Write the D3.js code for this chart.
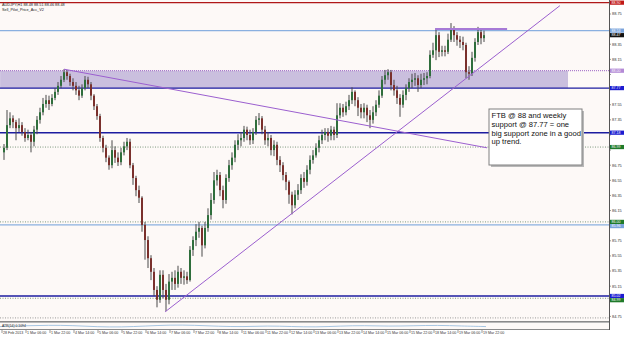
<!DOCTYPE html>
<html>
<head>
<meta charset="utf-8">
<script src="https://cdn.jsdelivr.net/npm/d3@7"></script>
<style>
  html, body { margin: 0; padding: 0; background: #ffffff; }
  svg { display: block; font-family: "Liberation Sans", Arial, sans-serif; }
</style>
</head>
<body>
<svg id="chart" width="625" height="337"></svg>
<script>
// AUDJPY hourly candles (open = previous close)
const firstOpen = 86.92;
const closes = [
  86.98, 87.28, 87.37, 87.32, 87.24, 87.28, 87.19, 87.11, 87.15, 87.06,
  87.22, 87.35, 87.45, 87.56, 87.61, 87.56, 87.64, 87.72, 87.80, 87.88,
  87.98, 87.93, 87.85, 87.80, 87.74, 87.67, 87.77, 87.88, 87.82, 87.67,
  87.53, 87.40, 87.11, 86.98, 86.85, 86.75, 86.95, 86.85, 86.79, 86.92,
  87.00, 87.06, 86.75, 86.58, 86.42, 86.32, 85.96, 85.76, 85.52, 85.34,
  85.10, 84.97, 85.30, 85.10, 84.97, 85.21, 85.26, 85.18, 85.34, 85.26,
  85.28, 85.23, 85.63, 85.76, 85.87, 85.92, 85.69, 85.92, 86.09, 86.29,
  86.55, 86.62, 86.42, 86.29, 86.58, 86.75, 86.85, 87.02, 87.08, 87.11,
  87.22, 87.15, 87.08, 87.19, 87.35, 87.37, 87.22, 87.08, 87.11, 86.95,
  87.02, 86.82, 86.75, 86.62, 86.53, 86.36, 86.22, 86.36, 86.42, 86.58,
  86.53, 86.69, 86.82, 86.88, 86.98, 87.08, 87.15, 87.19, 87.14, 87.22,
  87.15, 87.41, 87.51, 87.45, 87.53, 87.61, 87.72, 87.61, 87.51, 87.45,
  87.51, 87.41, 87.35, 87.45, 87.55, 87.67, 87.88, 87.94, 87.98, 87.81,
  87.74, 87.64, 87.55, 87.68, 87.77, 87.85, 87.88, 87.90, 87.81, 87.88,
  87.90, 87.93, 88.21, 88.27, 88.47, 88.25, 88.27, 88.25, 88.41, 88.56,
  88.47, 88.41, 88.38, 88.34, 87.98, 87.96, 88.17, 88.38, 88.51, 88.43,
  88.47
];
const highs = [
  87.03, 87.48, 87.45, 87.41, 87.35, 87.37, 87.32, 87.24, 87.22, 87.19,
  87.27, 87.40, 87.51, 87.64, 87.68, 87.67, 87.69, 87.77, 87.85, 87.93,
  88.02, 88.01, 87.96, 87.90, 87.85, 87.80, 87.82, 87.93, 87.92, 87.85,
  87.69, 87.56, 87.43, 87.14, 87.02, 86.88, 87.08, 87.00, 86.92, 86.98,
  87.06, 87.11, 87.10, 86.78, 86.61, 86.48, 86.34, 86.00, 85.81, 85.56,
  85.39, 85.15, 85.36, 85.36, 85.18, 85.31, 85.34, 85.36, 85.42, 85.39,
  85.36, 85.34, 85.68, 85.81, 85.97, 86.00, 85.95, 86.00, 86.18, 86.38,
  86.66, 86.69, 86.66, 86.48, 86.63, 86.82, 86.92, 87.08, 87.16, 87.19,
  87.27, 87.26, 87.22, 87.24, 87.40, 87.44, 87.40, 87.27, 87.19, 87.15,
  87.08, 87.06, 86.87, 86.79, 86.66, 86.55, 86.40, 86.42, 86.50, 86.63,
  86.66, 86.75, 86.88, 86.95, 87.04, 87.14, 87.22, 87.24, 87.24, 87.27,
  87.26, 87.57, 87.57, 87.56, 87.59, 87.68, 87.78, 87.74, 87.65, 87.56,
  87.57, 87.55, 87.48, 87.53, 87.61, 87.74, 87.93, 88.01, 88.02, 88.01,
  87.88, 87.80, 87.69, 87.74, 87.82, 87.90, 87.96, 87.97, 87.94, 87.96,
  87.97, 87.98, 88.27, 88.37, 88.56, 88.51, 88.33, 88.33, 88.49, 88.63,
  88.59, 88.51, 88.46, 88.45, 88.37, 88.06, 88.25, 88.43, 88.58, 88.55,
  88.53
];
const lows = [
  86.82, 86.95, 87.24, 87.24, 87.08, 87.19, 87.14, 87.06, 87.08, 86.92,
  87.00, 87.16, 87.30, 87.41, 87.51, 87.48, 87.53, 87.61, 87.68, 87.77,
  87.85, 87.88, 87.80, 87.74, 87.68, 87.61, 87.64, 87.74, 87.77, 87.61,
  87.48, 87.35, 87.06, 86.92, 86.79, 86.69, 86.71, 86.78, 86.74, 86.75,
  86.88, 86.95, 86.71, 86.49, 86.34, 86.25, 85.87, 85.50, 85.39, 85.23,
  85.02, 84.87, 84.93, 84.99, 84.82, 84.91, 85.10, 85.10, 85.13, 85.18,
  85.17, 85.18, 85.21, 85.55, 85.68, 85.79, 85.54, 85.65, 85.87, 86.03,
  86.24, 86.48, 86.34, 86.18, 86.24, 86.53, 86.69, 86.79, 86.95, 87.00,
  87.06, 87.08, 87.02, 87.03, 87.15, 87.28, 87.16, 87.02, 87.00, 86.88,
  86.87, 86.75, 86.66, 86.55, 86.42, 86.24, 86.10, 86.18, 86.29, 86.37,
  86.45, 86.48, 86.63, 86.77, 86.85, 86.92, 87.03, 87.08, 87.06, 87.08,
  87.08, 87.11, 87.37, 87.39, 87.41, 87.48, 87.56, 87.53, 87.40, 87.37,
  87.37, 87.32, 87.24, 87.30, 87.40, 87.51, 87.64, 87.82, 87.88, 87.74,
  87.67, 87.56, 87.39, 87.51, 87.61, 87.72, 87.77, 87.80, 87.72, 87.77,
  87.81, 87.82, 87.90, 88.17, 88.14, 88.18, 88.19, 88.19, 88.22, 88.38,
  88.38, 88.33, 88.30, 88.27, 87.90, 87.88, 87.93, 88.12, 88.34, 88.35,
  88.38
];

// ATR(14) sub-window, one reading every 8 bars
const atrValues = [0.12, 0.15, 0.17, 0.16, 0.11, 0.10, 0.14, 0.18, 0.17, 0.13,
  0.11, 0.15, 0.12, 0.10, 0.14, 0.16, 0.13, 0.15, 0.17, 0.14, 0.12];

const priceTicks = ["88.75", "88.55", "88.35", "88.15", "87.95", "87.75", "87.55",
  "87.35", "87.15", "86.95", "86.75", "86.55", "86.35", "86.15", "85.95", "85.75",
  "85.55", "85.35", "85.15", "84.95", "84.75"];

const timeLabels = ["28 Feb 2013", "1 Mar 06:00", "1 Mar 22:00", "4 Mar 14:00",
  "5 Mar 06:00", "5 Mar 22:00", "6 Mar 14:00", "7 Mar 06:00", "7 Mar 22:00",
  "8 Mar 14:00", "11 Mar 06:00", "11 Mar 22:00", "12 Mar 14:00", "13 Mar 06:00",
  "13 Mar 22:00", "14 Mar 14:00", "15 Mar 06:00", "15 Mar 22:00", "18 Mar 14:00",
  "19 Mar 06:00", "19 Mar 22:00"];

// horizontal levels drawn on the chart
const levelPrices = [88.90, 88.53, 88.00, 87.77, 87.18, 86.99, 86.00, 85.96, 85.02, 84.99, 84.73];
const levelKinds = ["red", "lightblue", "purpledot", "navy", "navy", "greendot",
  "greendot", "lightblue", "navy", "greendot", "greydot"];

// support zone and trend lines: [bar index, price]
const zone = { from: -1.3, to: 188, top: 88.00, bottom: 87.77 };
const downTrend = [[20, 88.02], [161, 86.98]];
const upTrend = [[53.7, 84.81], [185.3, 88.86]];
const topSegment = [[143.7, 88.55], [167.7, 88.55]];

const noteLines = ["FTB @ 88 and weekly", "support @ 87.77 = one",
  "big support zone in a good", "up trend."];

const svg = d3.select("#chart"),
  width = +svg.attr("width"),
  height = +svg.attr("height");

const plotRight = 609, plotBottom = 321;

const opens = [firstOpen].concat(closes.slice(0, -1));
const bars = closes.map((c, i) => ({ i, o: opens[i], h: highs[i], l: lows[i], c }));

const x = d3.scaleLinear().domain([0, 160]).range([4, 484]);
const y = d3.scaleLinear().domain([84.75, 88.75]).range([316.4, 14]);

const levelStyle = {
  red: { stroke: "#b01818", width: 1.2, dash: null, label: "#c01818" },
  lightblue: { stroke: "#8ab0e0", width: 1.4, dash: null, label: "#7aa4dc" },
  purpledot: { stroke: "#9a62c4", width: 1, dash: "1,1", label: "#b38ad6" },
  navy: { stroke: "#1c1ca0", width: 1.4, dash: null, label: "#1c1cd0" },
  greendot: { stroke: "#7e9a7e", width: 1, dash: "1,1.5", label: "#1f7a2a" },
  greydot: { stroke: "#9a9a9a", width: 1, dash: "1,1.5", label: null }
};

// backgrounds
svg.append("rect").attr("x", 0).attr("y", 0).attr("width", plotRight).attr("height", plotBottom)
  .attr("fill", "#fdf9f7");

svg.append("clipPath").attr("id", "plotClip")
  .append("rect").attr("x", 0).attr("y", 0).attr("width", plotRight).attr("height", plotBottom);

const plot = svg.append("g").attr("clip-path", "url(#plotClip)");

// support zone
plot.append("rect")
  .attr("x", x(zone.from))
  .attr("y", y(zone.top))
  .attr("width", x(zone.to) - x(zone.from))
  .attr("height", y(zone.bottom) - y(zone.top))
  .attr("fill", "#cabfde");

// horizontal lines
levelPrices.forEach((p, k) => {
  const s = levelStyle[levelKinds[k]];
  plot.append("line")
    .attr("x1", 0).attr("x2", plotRight)
    .attr("y1", y(p)).attr("y2", y(p))
    .attr("stroke", s.stroke)
    .attr("stroke-width", s.width)
    .attr("stroke-dasharray", s.dash);
});

// candles
const candle = plot.selectAll("g.bar").data(bars).enter().append("g").attr("class", "bar");
candle.append("rect")
  .attr("x", (d) => x(d.i) - 0.5)
  .attr("width", 1)
  .attr("y", (d) => y(d.h))
  .attr("height", (d) => Math.max(1, y(d.l) - y(d.h)))
  .attr("fill", "#4a4a4a");
candle.append("rect")
  .attr("x", (d) => x(d.i) - 1)
  .attr("width", 2)
  .attr("y", (d) => y(Math.max(d.o, d.c)))
  .attr("height", (d) => Math.max(1, Math.abs(y(d.o) - y(d.c))))
  .attr("fill", (d) => (d.c >= d.o ? "#2f6e3c" : "#7a302c"));

// trend lines
const line = d3.line().x((d) => x(d[0])).y((d) => y(d[1]));
[downTrend, upTrend].forEach((t) => {
  plot.append("path").attr("d", line(t)).attr("fill", "none")
    .attr("stroke", "#9b5fcf").attr("stroke-width", 1);
});
plot.append("path").attr("d", line(topSegment)).attr("fill", "none")
  .attr("stroke", "#a77ad6").attr("stroke-width", 2);

// note box
const box = svg.append("g").attr("transform", "translate(489,109)");
box.append("rect").attr("x", 2).attr("y", 2).attr("width", 93).attr("height", 56).attr("fill", "#b8b8b8");
box.append("rect").attr("x", 0).attr("y", 0).attr("width", 93).attr("height", 56)
  .attr("fill", "#ffffff").attr("stroke", "#808080").attr("stroke-width", 1);
box.selectAll("text").data(noteLines).enter().append("text")
  .attr("x", 2.5)
  .attr("y", (d, k) => 9 + k * 8.8)
  .attr("font-size", 7.6)
  .attr("fill", "#111")
  .text((d) => d);

// top-left captions
svg.append("text").attr("x", 2).attr("y", 6).attr("font-size", 3.8).attr("fill", "#222")
  .text("AUDJPY,H1  88.48 88.51 88.46 88.48");
svg.append("text").attr("x", 2).attr("y", 10.5).attr("font-size", 3.8).attr("fill", "#222")
  .text("Sell_Pilot_Price_Acc_V2");

// separators and ATR window
svg.append("rect").attr("x", 0).attr("y", plotBottom).attr("width", plotRight).attr("height", 1.6).attr("fill", "#8a8a8a");
svg.append("rect").attr("x", 0).attr("y", 323).attr("width", plotRight).attr("height", 6).attr("fill", "#fdf9f7");
const atrY = d3.scaleLinear().domain([0.05, 0.25]).range([328.5, 323]);
const atrX = d3.scaleLinear().domain([0, atrValues.length - 1]).range([0, 486]);
svg.append("path")
  .attr("d", d3.line().x((d, k) => atrX(k)).y((d) => atrY(d)).curve(d3.curveBasis)(atrValues))
  .attr("fill", "none").attr("stroke", "#8fb8dc").attr("stroke-width", 0.8);
svg.append("text").attr("x", 2).attr("y", 326.5).attr("font-size", 3.4).attr("fill", "#222")
  .text("ATR(14) 0.1094");
svg.append("rect").attr("x", 0).attr("y", 329).attr("width", plotRight).attr("height", 1).attr("fill", "#8a8a8a");

// coloured level tags on the axis (and the bid tag), stacked where they meet
const tagH = 4.2;
const bid = closes[closes.length - 1];
const tags = [];
levelPrices.forEach((p, k) => {
  const s = levelStyle[levelKinds[k]];
  if (s.label) tags.push({ p, fill: s.label });
});
tags.push({ p: bid, fill: "#111" });
tags.sort((a, b) => b.p - a.p);
let lastY = -Infinity;
tags.forEach((t) => {
  t.ty = Math.max(0, y(t.p) - tagH / 2, lastY + tagH);
  lastY = t.ty;
});

// right price axis, ticks hidden where a tag sits on them
svg.append("rect").attr("x", plotRight).attr("y", 0).attr("width", 1).attr("height", 330).attr("fill", "#555");
const visibleTicks = priceTicks.filter((t) =>
  tags.every((g) => y(+t) + 1.4 < g.ty - 0.3 || y(+t) - 1.6 > g.ty + tagH + 0.3));
const axisG = svg.append("g");
axisG.selectAll("text").data(visibleTicks).enter().append("text")
  .attr("x", 612)
  .attr("y", (d) => y(+d) + 1.4)
  .attr("font-size", 3.9)
  .attr("fill", "#333")
  .text((d) => d);
axisG.selectAll("line").data(priceTicks).enter().append("line")
  .attr("x1", plotRight).attr("x2", plotRight + 2)
  .attr("y1", (d) => y(+d)).attr("y2", (d) => y(+d))
  .attr("stroke", "#555").attr("stroke-width", 0.6);

tags.forEach((t) => {
  svg.append("rect").attr("x", plotRight + 1).attr("y", t.ty).attr("width", 14).attr("height", tagH).attr("fill", t.fill);
  svg.append("text").attr("x", plotRight + 2.5).attr("y", t.ty + 3.3).attr("font-size", 3.6)
    .attr("fill", "#ffffff").text(t.p.toFixed(2));
});

// time axis
const timeG = svg.append("g");
timeG.selectAll("line").data(timeLabels).enter().append("line")
  .attr("x1", (d, k) => x(k * 8) - 2).attr("x2", (d, k) => x(k * 8) - 2)
  .attr("y1", 330).attr("y2", 333)
  .attr("stroke", "#555").attr("stroke-width", 0.6);
timeG.selectAll("text").data(timeLabels).enter().append("text")
  .attr("x", (d, k) => x(k * 8) - 1)
  .attr("y", 334)
  .attr("font-size", 3.6)
  .attr("fill", "#333")
  .text((d) => d);
</script>
</body>
</html>
